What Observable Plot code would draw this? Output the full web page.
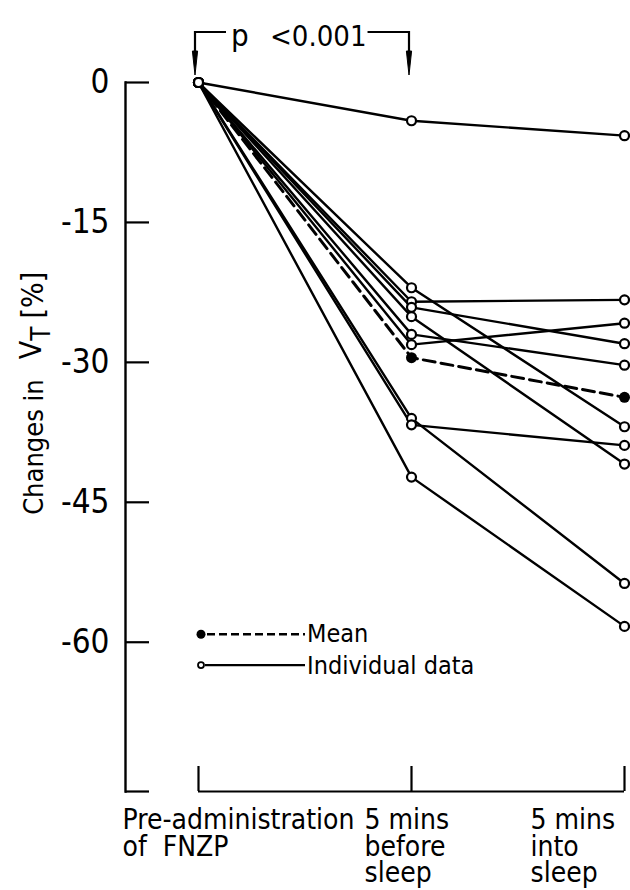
<!DOCTYPE html>
<html><head><meta charset="utf-8">
<script src="https://cdn.jsdelivr.net/npm/d3@7"></script>
<script src="https://cdn.jsdelivr.net/npm/@observablehq/plot@0.6"></script>
<style>
html,body{margin:0;padding:0;background:#fff;}
#chart{width:630px;height:890px;}
</style></head><body><div id="chart"></div>
<script>
// ---- data ----
const timepoints = ["pre", "before", "into"];
const timepointLabels = ["Pre-administration\nof  FNZP", "5 mins\nbefore\nsleep", "5 mins\ninto\nsleep"];
const subjects = ["S1","S2","S3","S4","S5","S6","S7","S8","S9","S10"];
const preValues    = [0, 0, 0, 0, 0, 0, 0, 0, 0, 0];
const beforeValues = [-4.1, -22.0, -23.5, -24.1, -25.1, -27.0, -28.1, -36.0, -36.7, -42.3];
const intoValues   = [-5.7, -36.9, -23.3, -28.0, -40.9, -30.3, -25.8, -53.7, -38.9, -58.3];
const meanValues   = [0, -29.5, -33.75];
const yTicks = [0, -15, -30, -45, -60];
const yDomain = [-76, 0];
const pValueText = ["p", "<0.001"];
const legendLabels = ["Mean", "Individual data"];
const yAxisLabel = ["Changes in", "V", "T", "[%]"];

// ---- tables ----
const individual = subjects.flatMap((s, i) => [
  {subject: s, time: timepoints[0], value: preValues[i]},
  {subject: s, time: timepoints[1], value: beforeValues[i]},
  {subject: s, time: timepoints[2], value: intoValues[i]}
]);
const mean = timepoints.map((t, i) => ({time: t, value: meanValues[i]}));

const FONT = '"DejaVu Sans Condensed", "DejaVu Sans", sans-serif';
const labelOffsets = [-76, -47, -94];

const plot = Plot.plot({
  width: 630, height: 890,
  marginTop: 82, marginBottom: 99, marginLeft: 125, marginRight: 5,
  style: {fontFamily: FONT, fontStretch: "condensed", fontSize: "33px", color: "#000", background: "#fff", overflow: "visible"},
  x: {type: "point", domain: timepoints, range: [197, 624], padding: 0, axis: null},
  y: {domain: yDomain, axis: null},
  marks: [
    Plot.frame({anchor: "left", strokeWidth: 2.4}),
    Plot.axisY({ticks: yTicks, tickSize: -24, tickPadding: 40, strokeWidth: 2.2, label: null, tickFormat: d => String(d), fontSize: 33}),
    Plot.axisY({ticks: [yDomain[0]], tickSize: -24, strokeWidth: 2.2, fill: "none", label: null}),
    Plot.axisX({tickSize: -25, strokeWidth: 2.2, fill: "none", label: null}),
    Plot.ruleY([yDomain[0]], {x1: () => timepoints[0], x2: () => timepoints[2], strokeWidth: 2.2}),
    Plot.line(individual, {x: "time", y: "value", z: "subject", strokeWidth: 2.4, stroke: "black"}),
    Plot.line(mean, {x: "time", y: "value", strokeWidth: 3, strokeDasharray: "12,6", stroke: "black"}),
    Plot.dot(mean, {filter: d => d.time !== timepoints[0], x: "time", y: "value", r: 5.5, fill: "black"}),
    Plot.dot(individual, {x: "time", y: "value", r: 4.5, fill: "white", stroke: "black", strokeWidth: 2.2}),
    ...timepoints.map((t, i) => Plot.text([timepointLabels[i]], {
      x: () => t, y: () => yDomain[0], text: d => d,
      textAnchor: "start", lineAnchor: "top", dx: labelOffsets[i], dy: 19,
      fontSize: 28, lineHeight: 0.94, fill: "black"
    }))
  ]
});
document.getElementById("chart").appendChild(plot);

// ---- annotations (positioned from the plot's scales) ----
const xs = plot.scale("x"), ys = plot.scale("y");
const svg = d3.select(plot);
const g = svg.append("g").attr("fill", "none").attr("stroke", "black").attr("stroke-width", 2.2);
const xa = xs.apply(timepoints[0]) - 3, xb = xs.apply(timepoints[1]) - 2;
const yTop = ys.apply(0) - 50, yTip = ys.apply(0) - 7;
const tg = svg.append("g").attr("font-family", FONT).attr("font-stretch", "condensed").attr("font-size", 29)
  .attr("text-anchor", "start").attr("fill", "black");
tg.append("text").attr("x", xa + 36).attr("y", yTop + 14).attr("font-size", 31).text(pValueText[0]);
const pv = tg.append("text").attr("x", xa + 75).attr("y", yTop + 14).text(pValueText[1]);
const pvEnd = xa + 75 + pv.node().getComputedTextLength();
g.append("path").attr("d", `M${xa},${yTip - 18}V${yTop}H${xa + 31}`);
g.append("path").attr("d", `M${pvEnd + 1},${yTop}H${xb}V${yTip - 18}`);
[xa, xb].forEach(x => {
  svg.append("path").attr("d", `M${x - 2.6},${yTip - 24}L${x + 2.6},${yTip - 24}L${x},${yTip}Z`)
    .attr("fill", "black").attr("stroke", "black").attr("stroke-width", 1);
});

// y-axis label (V with subscript T)
const yl = svg.append("text").attr("font-family", FONT).attr("font-stretch", "condensed")
  .attr("fill", "black").attr("text-anchor", "start")
  .attr("transform", `translate(43,${ys.apply(-46.4)}) rotate(-90)`);
yl.append("tspan").attr("font-size", 27).text(yAxisLabel[0]);
yl.append("tspan").attr("font-size", 30).attr("dx", 20).attr("dy", -2).text(yAxisLabel[1]);
yl.append("tspan").attr("font-size", 26).attr("dx", 0).attr("dy", 9).text(yAxisLabel[2]);
yl.append("tspan").attr("font-size", 30).attr("dx", 8).attr("dy", -7).text(yAxisLabel[3]);

// legend
const lx = xs.apply(timepoints[0]) + 3;
const ly1 = ys.apply(-59.2), ly2 = ys.apply(-62.5);
const lg = svg.append("g");
lg.append("line").attr("x1", lx + 6).attr("x2", lx + 104).attr("y1", ly1).attr("y2", ly1)
  .attr("stroke", "black").attr("stroke-width", 2.6).attr("stroke-dasharray", "8,4");
lg.append("circle").attr("cx", lx).attr("cy", ly1).attr("r", 4.5).attr("fill", "black");
lg.append("line").attr("x1", lx + 4).attr("x2", lx + 104).attr("y1", ly2).attr("y2", ly2)
  .attr("stroke", "black").attr("stroke-width", 2.2);
lg.append("circle").attr("cx", lx).attr("cy", ly2).attr("r", 3).attr("fill", "white").attr("stroke", "black").attr("stroke-width", 1.8);
const lt = lg.append("g").attr("font-family", FONT).attr("font-stretch", "condensed").attr("font-size", 25)
  .attr("text-anchor", "start").attr("fill", "black");
lt.append("text").attr("x", lx + 106).attr("y", ly1 + 8).text(legendLabels[0]);
lt.append("text").attr("x", lx + 106).attr("y", ly2 + 9).text(legendLabels[1]);
</script>
</body></html>
